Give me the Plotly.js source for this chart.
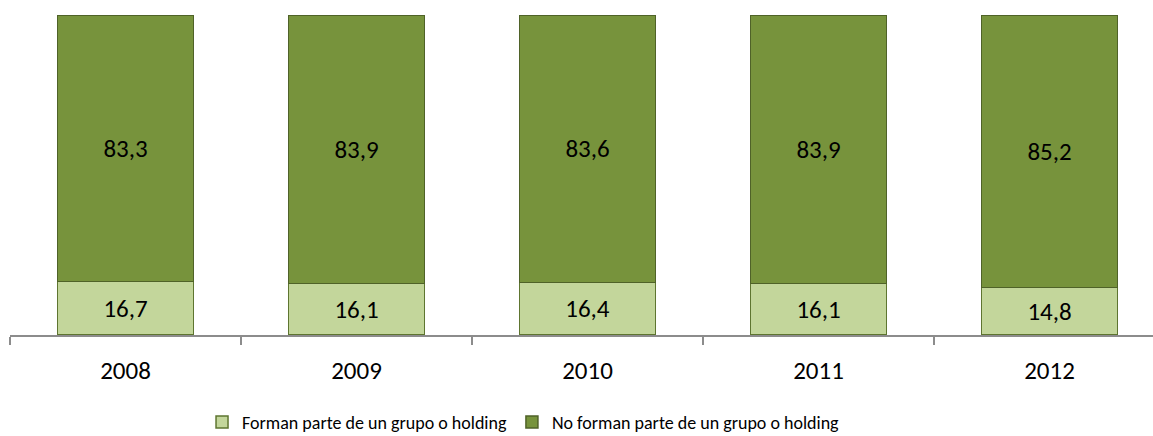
<!DOCTYPE html>
<html><head><meta charset="utf-8">
<script src="https://cdn.plot.ly/plotly-3.0.1.min.js"></script>
<style>body{margin:0;background:#fff}#c{width:1153px;height:436px}</style>
</head><body><div id="c"></div>
<script>
const years = ['2008','2009','2010','2011','2012'];
const forman = [16.7, 16.1, 16.4, 16.1, 14.8];
const noForman = [83.3, 83.9, 83.6, 83.9, 85.2];
const names = ['Forman parte de un grupo o holding', 'No forman parte de un grupo o holding'];

const font = "Carlito, Calibri, 'Open Sans', sans-serif";
const data = [
  {type:'bar', x:years, y:forman, name:names[0],
   marker:{color:'#C3D69B', line:{color:'#5E7530', width:1.5}},
   texttemplate:'%{y:.1f}', textposition:'inside', insidetextanchor:'middle',
   textfont:{size:25, color:'#000', family:font}, hoverinfo:'none'},
  {type:'bar', x:years, y:noForman, name:names[1],
   marker:{color:'#77933C', line:{color:'#4F6228', width:1.5}},
   texttemplate:'%{y:.1f}', textposition:'inside', insidetextanchor:'middle',
   textfont:{size:25, color:'#000', family:font}, hoverinfo:'none'}
];
const layout = {
  width:1153, height:436, barmode:'stack', bargap:0.411,
  separators:',.',
  margin:{l:10, r:0, t:15, b:101, autoexpand:false},
  paper_bgcolor:'#fff', plot_bgcolor:'#fff',
  font:{family:font, color:'#000'},
  xaxis:{type:'category', range:[-0.5, 4.448], automargin:false, showline:true, linecolor:'#8C8C8C', linewidth:1.5,
    ticks:'outside', tickson:'boundaries', ticklen:8, tickcolor:'#8C8C8C', tickwidth:1.5,
    tickfont:{size:25, family:font}, ticklabelstandoff:12, showgrid:false},
  yaxis:{range:[0,100], visible:false, showgrid:false, zeroline:false},
  showlegend:true,
  legend:{orientation:'h', x:0.168, xanchor:'left', yref:'container', y:0.074, yanchor:'top',
    font:{size:18, family:font}, traceorder:'normal', itemclick:false}
};
Plotly.newPlot('c', data, layout, {staticPlot:true});
</script></body></html>
